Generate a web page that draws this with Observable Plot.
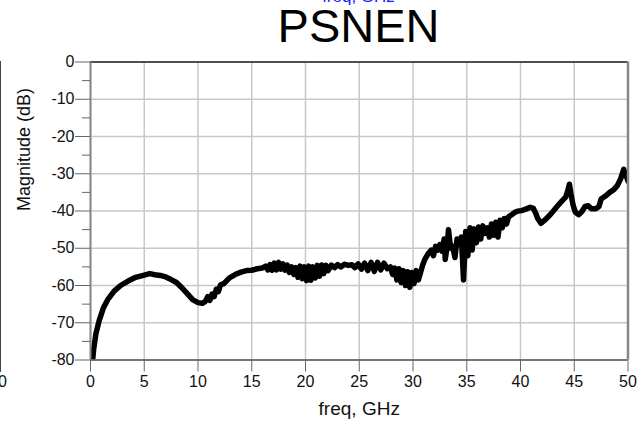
<!DOCTYPE html>
<html><head><meta charset="utf-8">
<script src="https://cdn.jsdelivr.net/npm/d3@7"></script>
<script src="https://cdn.jsdelivr.net/npm/@observablehq/plot@0.6"></script>
<style>
body{margin:0;background:#fff;font-family:"Liberation Sans",Arial,sans-serif;}
#wrap{position:relative;width:639px;height:425px;overflow:hidden;}
#wrap svg{position:absolute;left:0;top:0;}
.ov{position:absolute;white-space:nowrap;}
#title{left:0;width:717px;top:7.5px;text-align:center;font-size:47px;line-height:36px;color:#000;}
#topcut{left:0;width:717px;top:-12px;text-align:center;font-size:17px;line-height:17px;color:#1a1aff;}
#edge{left:0;top:61px;width:0;height:311px;border-left:1.5px solid #444;}
#edge0{left:-2px;top:374px;font-size:16px;line-height:16px;color:#111;}
</style>
</head><body>
<div id="wrap">
  <div class="ov" id="topcut">freq, GHz</div>
  <div class="ov" id="title">PSNEN</div>
  <div class="ov" id="edge"></div>
  <div class="ov" id="edge0">0</div>
</div>
<script>
const freq = [0.2,0.3,0.5,0.8,1.2,1.6,2.2,2.8,3.5,4.2,5.0,5.5,6.0,6.5,7.0,7.5,8.0,8.5,9.0,9.5,10.0,10.4,10.7,10.9,11.1,11.3,11.5,11.7,11.9,12.1,12.4,12.7,13.0,13.5,14.0,14.5,15.0,15.5,16.0,16.3,16.5,16.7,16.9,17.1,17.3,17.5,17.7,17.9,18.1,18.3,18.5,18.7,18.9,19.1,19.3,19.5,19.7,19.9,20.1,20.3,20.5,20.7,20.9,21.1,21.3,21.5,21.7,21.9,22.1,22.4,22.7,23.0,23.3,23.6,24.0,24.3,24.6,24.9,25.2,25.5,25.8,26.1,26.4,26.7,27.0,27.3,27.6,27.9,28.1,28.3,28.5,28.7,28.9,29.1,29.3,29.5,29.7,29.9,30.1,30.3,30.5,30.7,30.9,31.1,31.4,31.7,31.9,32.1,32.3,32.5,32.7,32.9,33.0,33.2,33.3,33.5,33.7,33.9,34.1,34.3,34.5,34.7,34.9,35.1,35.3,35.5,35.7,35.9,36.1,36.3,36.5,36.7,36.9,37.1,37.3,37.5,37.7,37.9,38.1,38.3,38.5,38.7,38.9,39.2,39.5,39.8,40.1,40.5,40.9,41.2,41.4,41.6,41.9,42.2,42.6,43.0,43.4,43.8,44.2,44.4,44.55,44.7,44.9,45.1,45.4,45.7,46.0,46.3,46.6,47.0,47.3,47.5,47.9,48.3,48.7,49.0,49.3,49.6,49.8,50.0];
const mag = [-80,-77,-73,-69.5,-66,-63.8,-61.5,-60,-58.8,-57.8,-57.2,-56.8,-57.1,-57.3,-57.7,-58.4,-59.2,-60.6,-62.2,-63.8,-64.6,-64.8,-64.2,-63.0,-64.0,-62.3,-63.0,-61.0,-61.6,-59.8,-59.5,-58.6,-57.8,-57.0,-56.4,-56.0,-55.9,-55.5,-55.3,-54.8,-55.8,-54.4,-55.9,-54.0,-55.8,-53.8,-55.6,-54.2,-55.9,-54.5,-56.5,-55.0,-57.0,-55.2,-57.8,-54.8,-58.2,-55.0,-58.7,-54.8,-58.6,-55.0,-58.0,-54.6,-57.5,-54.5,-56.8,-54.6,-56.0,-54.5,-55.2,-54.4,-55.0,-54.3,-54.6,-54.4,-55.2,-54.2,-55.6,-54.0,-56.0,-53.8,-56.2,-53.8,-55.8,-54.0,-55.5,-55.0,-57.0,-55.3,-58.5,-55.5,-59.2,-56.0,-60.0,-56.3,-60.5,-56.5,-59.5,-56.0,-58.5,-56.5,-54.5,-53.0,-51.5,-50.5,-52.0,-49.5,-50.5,-49.0,-50.8,-47.5,-53.0,-49.0,-45.0,-50.0,-49.5,-52.5,-47.5,-49.0,-47.0,-58.5,-45.5,-52.0,-44.5,-50.5,-44.8,-48.5,-44.3,-47.5,-44.0,-46.0,-44.5,-47.0,-43.5,-46.5,-43.0,-47.0,-42.5,-44.5,-42.0,-43.5,-41.5,-41.0,-40.3,-40.0,-39.9,-39.5,-39.0,-39.3,-40.5,-42.0,-43.3,-42.6,-41.5,-40.2,-38.8,-37.5,-36.3,-34.5,-32.8,-35.5,-38.5,-40.3,-41.0,-40.2,-38.8,-38.6,-39.4,-39.4,-38.8,-36.8,-36.0,-35.0,-34.2,-33.2,-31.5,-28.8,-30.2,-32.0];
const xTicks = [0,5,10,15,20,25,30,35,40,45,50];
const yTicks = [-80,-70,-60,-50,-40,-30,-20,-10,0];
const yMinor = [-75,-65,-55,-45,-35,-25,-15,-5];
const xLabel = "freq, GHz";
const yLabel = "Magnitude (dB)";

const data = freq.map((f, i) => ({freq: f, mag: mag[i]}));

const chart = Plot.plot({
  width: 639, height: 425,
  marginLeft: 90, marginRight: 11.5, marginTop: 61.5, marginBottom: 65.5,
  style: {fontFamily: "'Liberation Sans', Arial, sans-serif", fontSize: "16px", color: "#111", background: "transparent"},
  x: {domain: [0, 50]},
  y: {domain: [-80, 0]},
  marks: [
    Plot.gridX(xTicks, {stroke: "#c8c8c8", strokeOpacity: 1, strokeWidth: 1.5}),
    Plot.gridY(yTicks, {stroke: "#c8c8c8", strokeOpacity: 1, strokeWidth: 1.5}),
    Plot.line(data, {x: "freq", y: "mag", stroke: "#000", strokeWidth: 5.5, strokeLinejoin: "round", clip: true}),
    Plot.ruleY([0], {stroke: "#222", strokeWidth: 1.5}),
    Plot.ruleY([-80], {stroke: "#555", strokeWidth: 1.5}),
    Plot.ruleX([0], {stroke: "#888", strokeWidth: 2}),
    Plot.ruleX([50], {stroke: "#888", strokeWidth: 2.5}),
    Plot.axisY(yTicks, {tickSize: 15, tickPadding: 1, tickFormat: d => String(d), label: null, stroke: "#666", fill: "#111", fontSize: 16}),
    Plot.axisY(yMinor, {tickSize: 8, tickFormat: () => "", label: null, stroke: "#666"}),
    Plot.axisX(xTicks, {tickSize: 12, tickPadding: 4, tickFormat: d => String(d), label: null, stroke: "#666", fill: "#111", fontSize: 16}),
    Plot.text([xLabel], {text: d => d, frameAnchor: "bottom", dy: 55, fontSize: 19, fill: "#111"}),
    Plot.text([yLabel], {text: d => d, frameAnchor: "left", rotate: -90, dx: -66, dy: 0, fontSize: 18, fill: "#111"})
  ]
});
document.getElementById("wrap").prepend(chart);
</script>
</body></html>
